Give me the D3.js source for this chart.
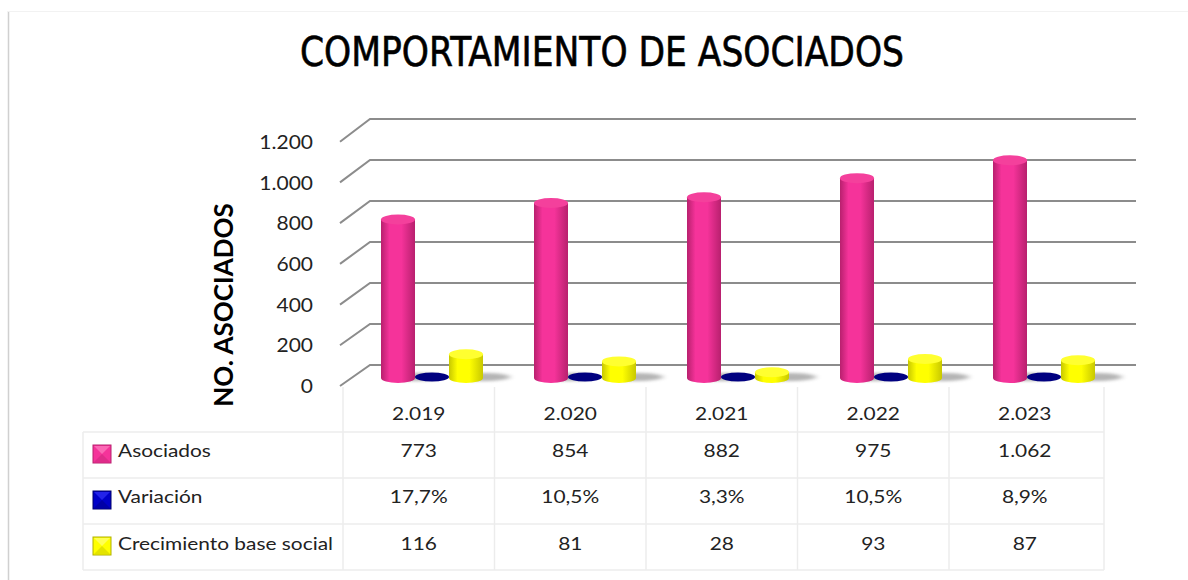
<!DOCTYPE html>
<html><head><meta charset="utf-8">
<script src="https://cdn.jsdelivr.net/npm/d3@7"></script>
<style>
html,body{margin:0;padding:0;background:#fff;}
svg{display:block;}
</style></head>
<body>
<svg id="chart" width="1188" height="580"></svg>
<script>
const categories = ["2.019","2.020","2.021","2.022","2.023"];
const asociados = [773, 854, 882, 975, 1062];
const variacion = [0.177, 0.105, 0.033, 0.105, 0.089];
const variacionLabels = ["17,7%","10,5%","3,3%","10,5%","8,9%"];
const crecimiento = [116, 81, 28, 93, 87];
const seriesNames = ["Asociados","Variación","Crecimiento base social"];
const yTicks = [0,200,400,600,800,1000,1200];
const yTickLabels = ["0","200","400","600","800","1.000","1.200"];

const svg = d3.select("#chart");
const FONT = "Lato, 'Open Sans', sans-serif";
const SX = 1.16; // horizontal stretch of the text

const defs = svg.append("defs");
function hGrad(id, edge, mid){
  const g = defs.append("linearGradient").attr("id",id).attr("x1","0").attr("x2","1").attr("y1","0").attr("y2","0");
  g.append("stop").attr("offset","0").attr("stop-color",edge);
  g.append("stop").attr("offset","0.25").attr("stop-color",mid);
  g.append("stop").attr("offset","0.6").attr("stop-color",mid);
  g.append("stop").attr("offset","1").attr("stop-color",edge);
}
hGrad("gPink","#b8206e","#f5339a");
hGrad("gYellow","#c8c800","#ffff00");
const blur = defs.append("filter").attr("id","blur").attr("x","-50%").attr("y","-200%").attr("width","200%").attr("height","500%");
blur.append("feGaussianBlur").attr("stdDeviation","3 1.5");

// outer frame lines
svg.append("line").attr("x1",8.5).attr("x2",8.5).attr("y1",11).attr("y2",580).attr("stroke","#d0d0d0").attr("stroke-width",1.5);
svg.append("line").attr("x1",8).attr("x2",1188).attr("y1",11.5).attr("y2",11.5).attr("stroke","#f2f2f2").attr("stroke-width",1);

// title
svg.append("text").attr("x",602).attr("y",66).attr("text-anchor","middle")
  .attr("font-family","'Liberation Sans Narrow', 'DejaVu Sans Condensed', sans-serif")
  .attr("font-size",41).attr("fill","#000").attr("stroke","#000").attr("stroke-width",0.6)
  .attr("textLength",604).attr("lengthAdjust","spacingAndGlyphs")
  .text("COMPORTAMIENTO DE ASOCIADOS");

// scales
const yBack = d3.scaleLinear().domain([0,1200]).range([365,119]);
const yFront = d3.scaleLinear().domain([0,1200]).range([386,141.7]);
const yMid = d3.scaleLinear().domain([0,1200]).range([378,132]);
const xBack0 = 370, xBack1 = 1136, xFront0 = 340;

// gridlines
const grid = svg.append("g");
yTicks.forEach(t=>{
  grid.append("path")
    .attr("d",`M${xFront0},${yFront(t)}L${xBack0},${yBack(t)}L${xBack1},${yBack(t)}`)
    .attr("fill","none").attr("stroke","#8c8c8c").attr("stroke-width",2);
});

// tick labels
svg.append("g").selectAll("text").data(yTicks).join("text")
  .attr("transform",d=>`translate(313,${yFront(d)}) scale(1.05,1)`).attr("dy","0.36em").attr("text-anchor","end")
  .attr("font-family",FONT).attr("font-size",20).attr("fill","#222")
  .text((d,i)=>yTickLabels[i]);

// y axis title
svg.append("text").attr("transform","translate(233,305) rotate(-90)").attr("text-anchor","middle")
  .attr("font-family",FONT).attr("font-weight","bold").attr("font-size",26).attr("fill","#000")
  .text("NO. ASOCIADOS");

// bars (cylinders)
const xMid = d3.scaleBand().domain(categories).range([355.5,1120.5]);
const bw = 34, ry = 5;
const barsG = svg.append("g");
function cylinder(cx, v, grad, top, shadow){
  const yT = yMid(v), yB = yMid(0);
  if(shadow){
    barsG.append("ellipse").attr("cx",cx+18).attr("cy",yB-1).attr("rx",26).attr("ry",4)
      .attr("fill","#777").attr("opacity",0.55).attr("filter","url(#blur)");
  }
  barsG.append("path")
    .attr("d",`M${cx-bw/2},${yT}L${cx-bw/2},${yB}A${bw/2},${ry} 0 0 0 ${cx+bw/2},${yB}L${cx+bw/2},${yT}Z`)
    .attr("fill",`url(#${grad})`);
  barsG.append("ellipse").attr("cx",cx).attr("cy",yT).attr("rx",bw/2).attr("ry",ry).attr("fill",top);
}
categories.forEach((c,i)=>{
  const center = xMid(c) + xMid.bandwidth()/2;
  cylinder(center-bw, asociados[i], "gPink", "#f4409c", true);
  // variación: percentage on the same axis -> flat disc
  const vy = yMid(variacion[i]);
  barsG.append("ellipse").attr("cx",center).attr("cy",vy-1).attr("rx",bw/2).attr("ry",ry-0.5).attr("fill","#000080");
  cylinder(center+bw, crecimiento[i], "gYellow", "#ffff30", true);
});

// data table
const xTab = d3.scaleBand().domain(categories).range([343,1100.5]);
const rowsY = [432, 478, 524, 570];
const tab = svg.append("g");
const lineC = "#ececec";
rowsY.forEach(y=>{
  tab.append("line").attr("x1",83).attr("x2",1104).attr("y1",y).attr("y2",y).attr("stroke",lineC).attr("stroke-width",1.5);
});
categories.forEach(c=>{
  tab.append("line").attr("x1",xTab(c)).attr("x2",xTab(c)).attr("y1",387).attr("y2",570).attr("stroke",lineC).attr("stroke-width",1.5);
});
tab.append("line").attr("x1",1104).attr("x2",1104).attr("y1",387).attr("y2",570).attr("stroke",lineC).attr("stroke-width",1.5);
tab.append("line").attr("x1",83).attr("x2",83).attr("y1",432).attr("y2",570).attr("stroke",lineC).attr("stroke-width",1.5);

function stText(g, x, y, anchor, txt){
  return g.append("text").attr("transform",`translate(${x},${y}) scale(${SX},1)`).attr("text-anchor",anchor)
    .attr("font-family",FONT).attr("font-size",18).attr("fill","#222").text(txt);
}
// header
categories.forEach(c=>stText(tab, xTab(c)+xTab.bandwidth()/2, 420, "middle", c));

const rowVals = [asociados.map(v=>d3.format(",")(v).replace(/,/g,".")), variacionLabels, crecimiento.map(String)];
const keyColors = [["#f5339a","#b8206e","#ff8cc8"],["#0000c8","#00006a","#3a3aff"],["#ffff00","#b0b000","#ffff90"]];
rowVals.forEach((vals,r)=>{
  const base = [457,503,550][r];
  const y0 = rowsY[r];
  const kx = 93, ky = y0 + 13, ks = 18;
  tab.append("rect").attr("x",kx).attr("y",ky).attr("width",ks).attr("height",ks).attr("fill",keyColors[r][0]).attr("stroke",keyColors[r][1]).attr("stroke-width",1);
  tab.append("path").attr("d",`M${kx+1},${ky+1}L${kx+ks-1},${ky+1}L${kx+ks/2},${ky+ks/2}Z`).attr("fill",keyColors[r][2]).attr("opacity",0.6);
  tab.append("path").attr("d",`M${kx+1},${ky+ks-1}L${kx+ks-1},${ky+ks-1}L${kx+ks/2},${ky+ks/2}Z`).attr("fill",keyColors[r][1]).attr("opacity",0.35);
  stText(tab, 118, base, "start", seriesNames[r]);
  vals.forEach((d,i)=>stText(tab, xTab(categories[i])+xTab.bandwidth()/2, base, "middle", d));
});
</script>
</body></html>
